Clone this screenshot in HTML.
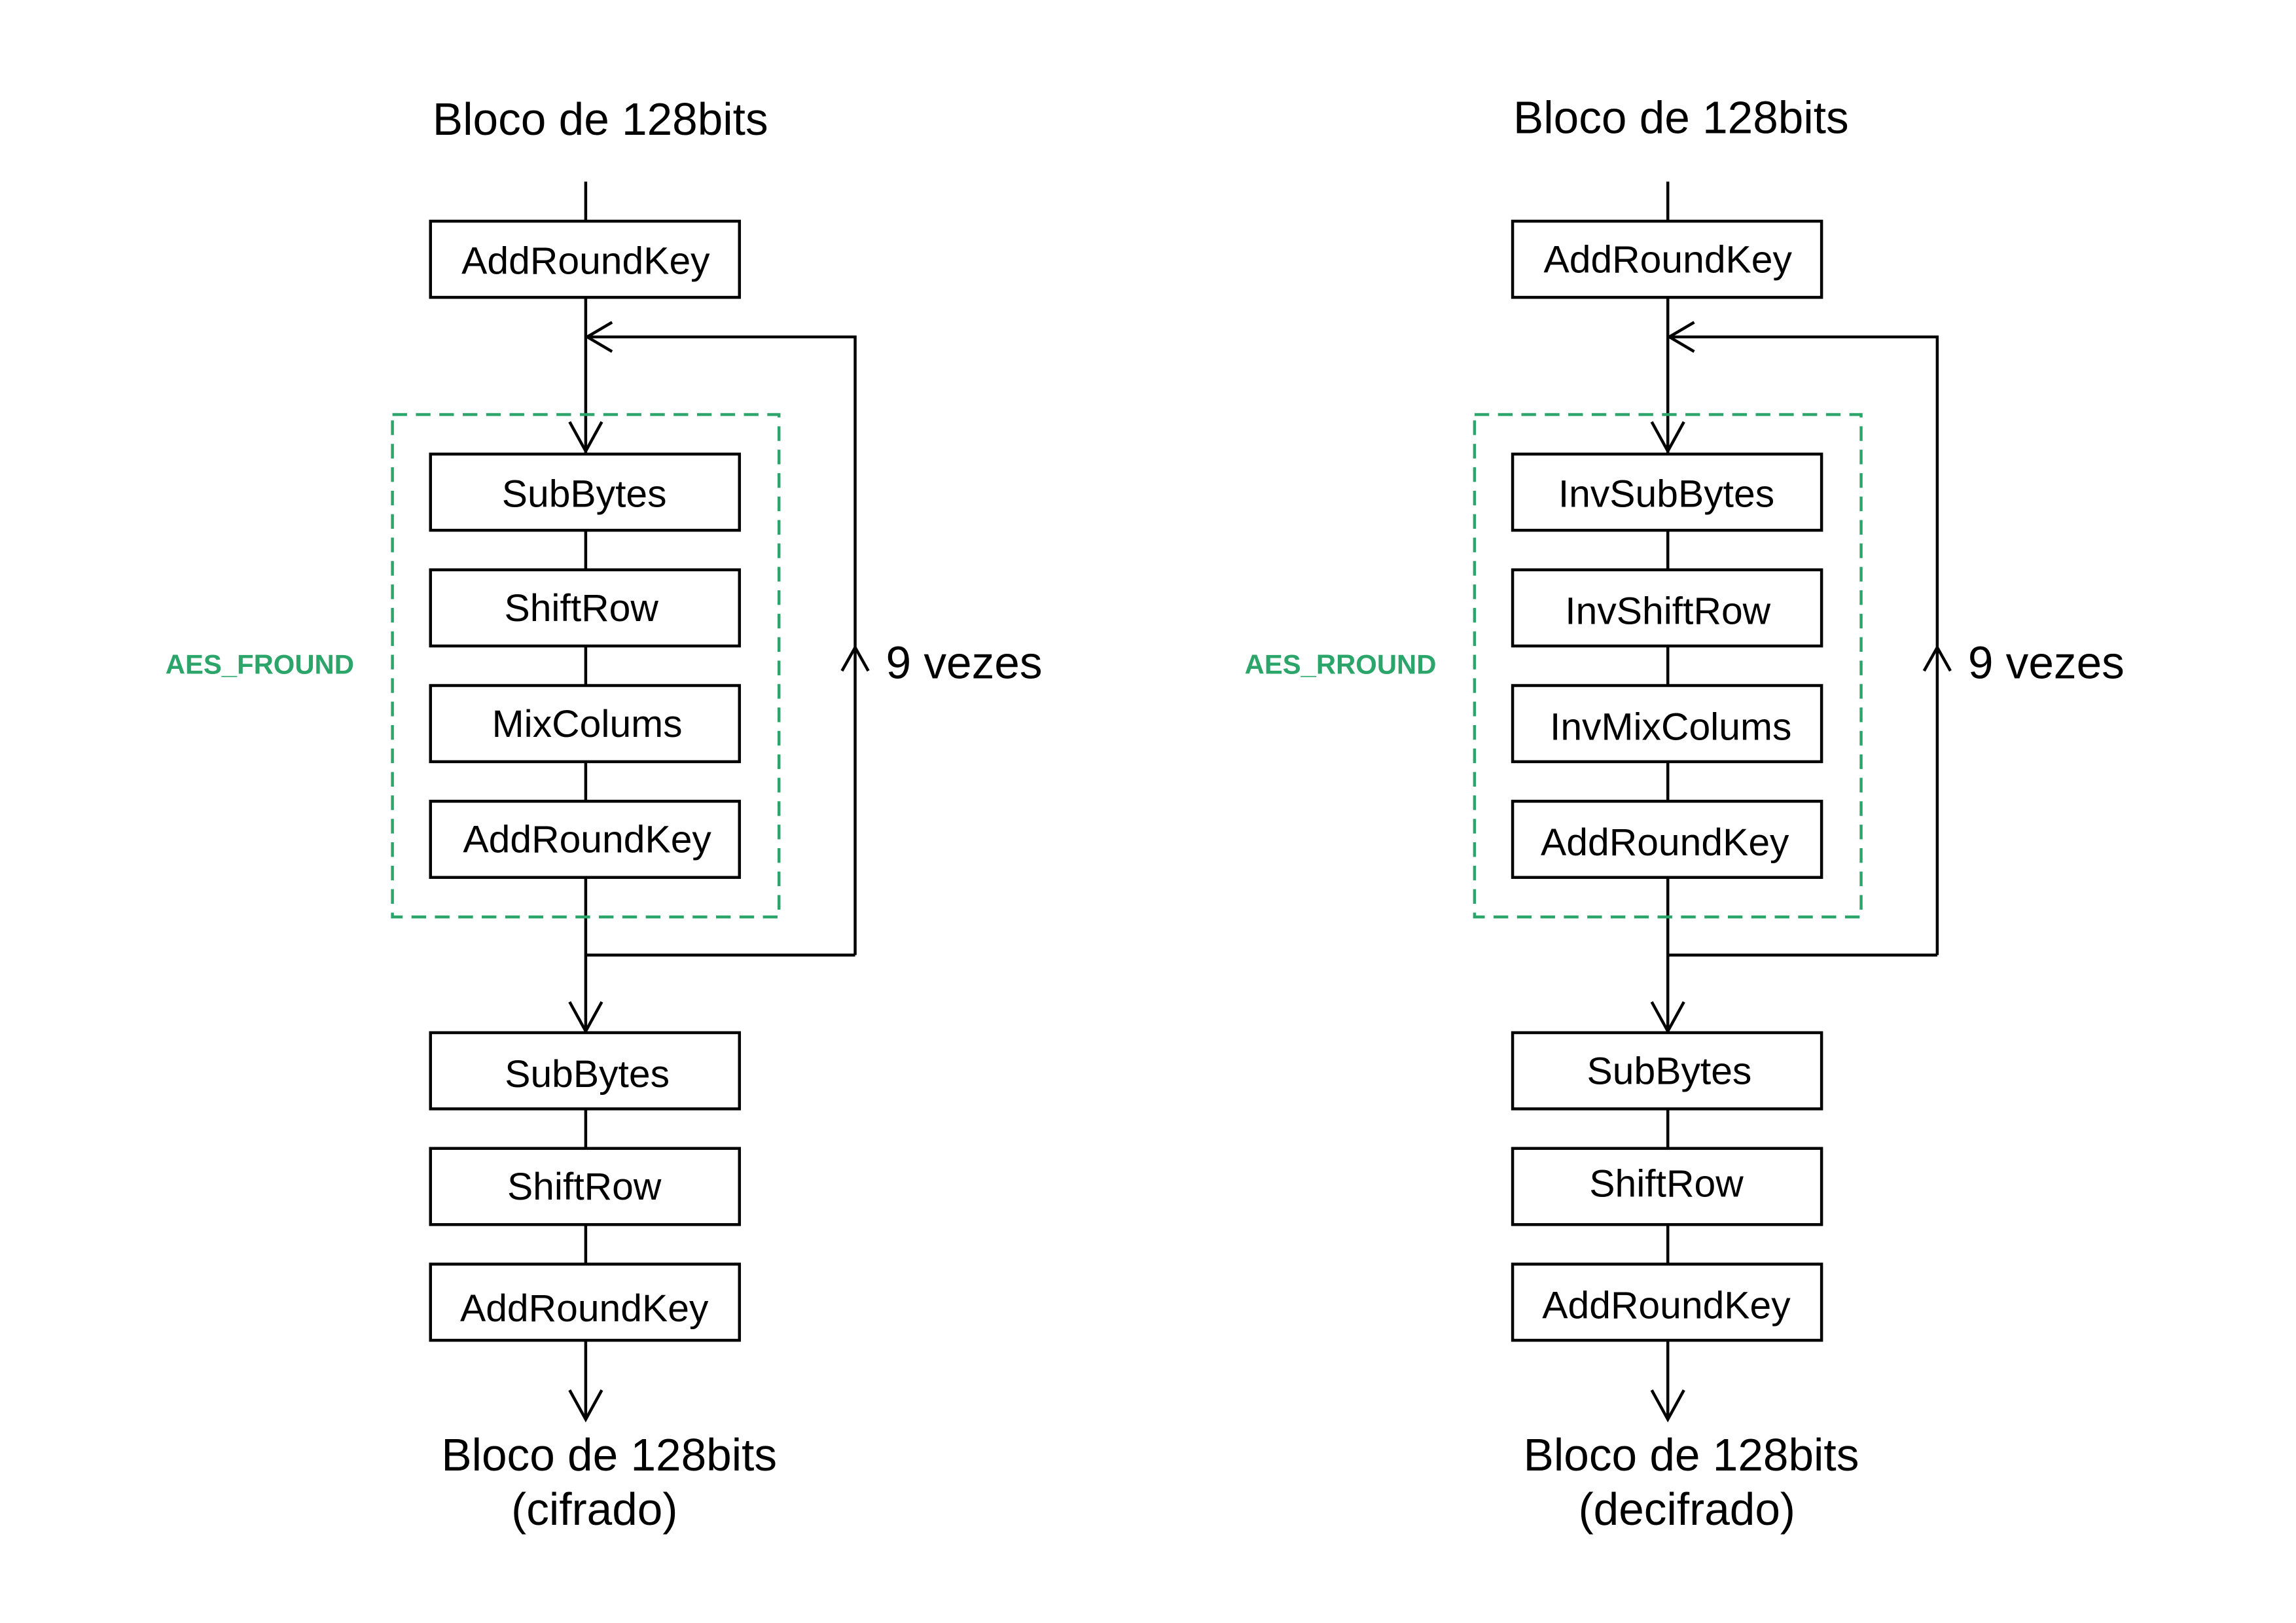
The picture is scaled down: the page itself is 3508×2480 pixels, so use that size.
<!DOCTYPE html>
<html><head><meta charset="utf-8"><style>
html,body{margin:0;padding:0;background:#fff;}
svg{display:block;}
text{font-family:"Liberation Sans",sans-serif;fill:#000;}
</style></head><body>
<svg width="3508" height="2480" viewBox="0 0 1568 1108" preserveAspectRatio="none" xmlns="http://www.w3.org/2000/svg">
<rect width="1568" height="1108" fill="#fff"/>
<defs>
<g id="col" fill="none" stroke="#000" stroke-width="2">
  <line x1="400" y1="124" x2="400" y2="151"/>
  <rect x="294" y="151" width="211" height="52" fill="#fff"/>
  <line x1="400" y1="203" x2="400" y2="310"/>
  <polyline points="389,288 400,308 411,288"/>
  <polyline points="584,652 584,230 400,230"/>
  <polyline points="418,220 401,230 418,240"/>
  <polyline points="575,458 584,442 593,458"/>
  <rect x="294" y="310" width="211" height="52" fill="#fff"/>
  <line x1="400" y1="362" x2="400" y2="389"/>
  <rect x="294" y="389" width="211" height="52" fill="#fff"/>
  <line x1="400" y1="441" x2="400" y2="468"/>
  <rect x="294" y="468" width="211" height="52" fill="#fff"/>
  <line x1="400" y1="520" x2="400" y2="547"/>
  <rect x="294" y="547" width="211" height="52" fill="#fff"/>
  <line x1="400" y1="599" x2="400" y2="705"/>
  <line x1="400" y1="652" x2="584" y2="652"/>
  <polyline points="389,684 400,704 411,684"/>
  <rect x="294" y="705" width="211" height="52" fill="#fff"/>
  <line x1="400" y1="757" x2="400" y2="784"/>
  <rect x="294" y="784" width="211" height="52" fill="#fff"/>
  <line x1="400" y1="836" x2="400" y2="863"/>
  <rect x="294" y="863" width="211" height="52" fill="#fff"/>
  <line x1="400" y1="915" x2="400" y2="969"/>
  <polyline points="389,949 400,969 411,949"/>
  <rect x="268" y="283" width="264" height="343" stroke="#2ca56a" stroke-dasharray="10,6"/>
</g>
</defs>
<use href="#col"/>
<use href="#col" transform="translate(739,0)"/>
<g font-size="26.3" text-anchor="middle">
<text x="400" y="187">AddRoundKey</text>
<text x="399" y="346">SubBytes</text>
<text x="397" y="424">ShiftRow</text>
<text x="401" y="503">MixColums</text>
<text x="401" y="582">AddRoundKey</text>
<text x="401" y="742">SubBytes</text>
<text x="399" y="819">ShiftRow</text>
<text x="399" y="902">AddRoundKey</text>
<text x="1139" y="186">AddRoundKey</text>
<text x="1138" y="346">InvSubBytes</text>
<text x="1139" y="426">InvShiftRow</text>
<text x="1141" y="505">InvMixColums</text>
<text x="1137" y="584">AddRoundKey</text>
<text x="1140" y="740">SubBytes</text>
<text x="1138" y="817">ShiftRow</text>
<text x="1138" y="900">AddRoundKey</text>
</g>
<g font-size="31" text-anchor="middle">
<text x="410" y="92">Bloco de 128bits</text>
<text x="1148" y="91">Bloco de 128bits</text>
<text x="416" y="1004">Bloco de 128bits</text>
<text x="406" y="1041">(cifrado)</text>
<text x="1155" y="1004">Bloco de 128bits</text>
<text x="1152" y="1041">(decifrado)</text>
</g>
<g font-size="31">
<text x="605" y="463">9 vezes</text>
<text x="1344" y="463">9 vezes</text>
</g>
<g font-size="18.7" font-weight="bold">
<text x="113" y="460" style="fill:#2ca56a">AES_FROUND</text>
<text x="850" y="460" style="fill:#2ca56a">AES_RROUND</text>
</g>
</svg>
</body></html>
